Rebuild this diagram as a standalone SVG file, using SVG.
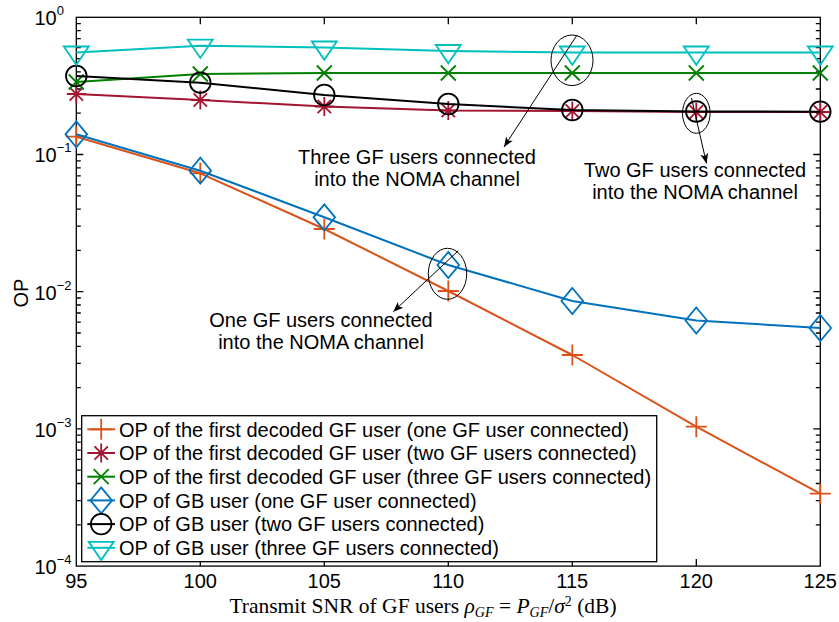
<svg xmlns="http://www.w3.org/2000/svg" width="839" height="622" viewBox="0 0 839 622">
  <style>
    text { font-family: "Liberation Sans", Arial, sans-serif; font-size: 20px; fill: #000; }
    .serif { font-family: "Liberation Serif", "Times New Roman", serif; font-size: 21.5px; }
    .sup { font-size: 13px; }
    .axis { fill: none; stroke: #000; stroke-width: 1.3; }
    .ln { fill: none; stroke-width: 2; stroke-linejoin: round; }
    .mk { fill: none; stroke-width: 1.8; stroke-linejoin: miter; }
    .c-or { stroke: #D95319; }
    .c-rd { stroke: #A2142F; }
    .c-gr { stroke: #008000; }
    .c-bl { stroke: #0072BD; }
    .c-bk { stroke: #000000; }
    .c-cy { stroke: #00BFBF; }
    .ann { fill: none; stroke: #000; stroke-width: 1; }
  </style>
  <defs>
    <path id="m-plus" d="M-10.5,0H10.5M0,-10.5V10.5"/>
    <path id="m-star" d="M-9.5,0H9.5M0,-9.5V9.5M-6.7,-6.7L6.7,6.7M-6.7,6.7L6.7,-6.7"/>
    <path id="m-x" d="M-7.5,-7.5L7.5,7.5M-7.5,7.5L7.5,-7.5"/>
    <path id="m-dia" d="M0,-13L10.8,0L0,13L-10.8,0Z"/>
    <circle id="m-circ" cx="0" cy="0" r="10.3"/>
    <path id="m-tri" d="M-12.5,-6H12.5L0,12.3Z"/>
    <marker id="ah" viewBox="-11 -5 12 10" markerWidth="12" markerHeight="10" refX="0" refY="0" orient="auto" markerUnits="userSpaceOnUse">
      <path d="M0,0L-10,-4L-7.5,0L-10,4Z" fill="#000"/>
    </marker>
  </defs>

  <rect width="839" height="622" fill="#fff"/>

  <!-- axes frame and ticks -->
  <g id="axes">
    <rect class="axis" x="76.3" y="17.3" width="744" height="548.8"/>
    <path class="axis" d="M200.3,566.1v-7M324.3,566.1v-7M448.3,566.1v-7M572.3,566.1v-7M696.3,566.1v-7
      M200.3,17.3v7M324.3,17.3v7M448.3,17.3v7M572.3,17.3v7M696.3,17.3v7
      M76.3,154.5h7M76.3,291.7h7M76.3,428.9h7
      M820.3,154.5h-7M820.3,291.7h-7M820.3,428.9h-7"/>
    <path class="axis" d="
      M76.3,113.2h4.5M76.3,89h4.5M76.3,71.9h4.5M76.3,58.6h4.5M76.3,47.7h4.5M76.3,38.6h4.5M76.3,30.6h4.5M76.3,23.6h4.5
      M76.3,250.4h4.5M76.3,226.2h4.5M76.3,209.1h4.5M76.3,195.8h4.5M76.3,184.9h4.5M76.3,175.8h4.5M76.3,167.8h4.5M76.3,160.8h4.5
      M76.3,387.6h4.5M76.3,363.4h4.5M76.3,346.3h4.5M76.3,333h4.5M76.3,322.1h4.5M76.3,313h4.5M76.3,305h4.5M76.3,298h4.5
      M76.3,524.8h4.5M76.3,500.6h4.5M76.3,483.5h4.5M76.3,470.2h4.5M76.3,459.3h4.5M76.3,450.2h4.5M76.3,442.2h4.5M76.3,435.2h4.5
      M820.3,113.2h-4.5M820.3,89h-4.5M820.3,71.9h-4.5M820.3,58.6h-4.5M820.3,47.7h-4.5M820.3,38.6h-4.5M820.3,30.6h-4.5M820.3,23.6h-4.5
      M820.3,250.4h-4.5M820.3,226.2h-4.5M820.3,209.1h-4.5M820.3,195.8h-4.5M820.3,184.9h-4.5M820.3,175.8h-4.5M820.3,167.8h-4.5M820.3,160.8h-4.5
      M820.3,387.6h-4.5M820.3,363.4h-4.5M820.3,346.3h-4.5M820.3,333h-4.5M820.3,322.1h-4.5M820.3,313h-4.5M820.3,305h-4.5M820.3,298h-4.5
      M820.3,524.8h-4.5M820.3,500.6h-4.5M820.3,483.5h-4.5M820.3,470.2h-4.5M820.3,459.3h-4.5M820.3,450.2h-4.5M820.3,442.2h-4.5M820.3,435.2h-4.5"/>
  </g>

  <!-- tick labels -->
  <g id="xticks" text-anchor="middle">
    <text x="76.3" y="588">95</text>
    <text x="200.3" y="588">100</text>
    <text x="324.3" y="588">105</text>
    <text x="448.3" y="588">110</text>
    <text x="572.3" y="588">115</text>
    <text x="696.3" y="588">120</text>
    <text x="820.3" y="588">125</text>
  </g>
  <g id="yticks">
    <text x="34.5" y="25">10<tspan class="sup" dy="-10">0</tspan></text>
    <text x="34.5" y="162.3">10<tspan class="sup" dy="-10">−1</tspan></text>
    <text x="34.5" y="299.5">10<tspan class="sup" dy="-10">−2</tspan></text>
    <text x="34.5" y="436.7">10<tspan class="sup" dy="-10">−3</tspan></text>
    <text x="34.5" y="573.5">10<tspan class="sup" dy="-10">−4</tspan></text>
  </g>

  <!-- axis titles -->
  <text id="ylabel" transform="translate(27.5,293) rotate(-90)" text-anchor="middle">OP</text>
  <text id="xlabel" class="serif" x="423" y="613" text-anchor="middle">Transmit SNR of GF users <tspan font-style="italic">ρ</tspan><tspan font-style="italic" font-size="14" dy="4">GF</tspan><tspan dy="-4"> = </tspan><tspan font-style="italic">P</tspan><tspan font-style="italic" font-size="14" dy="4">GF</tspan><tspan dy="-4">/</tspan><tspan font-style="italic">σ</tspan><tspan font-size="14" dy="-7">2</tspan><tspan dy="7"> (dB)</tspan></text>

  <!-- data series -->
  <g id="series-gf-one">
    <polyline class="ln c-or" points="76.3,136.7 200.3,173.3 324.3,229 448.3,291 572.3,355 696.3,426.7 820.3,493.7"/>
    <g class="mk c-or">
      <use href="#m-plus" x="76.3" y="136.7"/><use href="#m-plus" x="200.3" y="173.3"/><use href="#m-plus" x="324.3" y="229"/>
      <use href="#m-plus" x="448.3" y="291"/><use href="#m-plus" x="572.3" y="355"/><use href="#m-plus" x="696.3" y="426.7"/>
      <use href="#m-plus" x="820.3" y="493.7"/>
    </g>
  </g>
  <g id="series-gf-two">
    <polyline class="ln c-rd" points="76.3,94 200.3,100 324.3,106.5 448.3,110.5 572.3,111 696.3,112 820.3,112"/>
    <g class="mk c-rd">
      <use href="#m-star" x="76.3" y="94"/><use href="#m-star" x="200.3" y="100"/><use href="#m-star" x="324.3" y="106.5"/>
      <use href="#m-star" x="448.3" y="110.5"/><use href="#m-star" x="572.3" y="111"/><use href="#m-star" x="696.3" y="112"/>
      <use href="#m-star" x="820.3" y="112"/>
    </g>
  </g>
  <g id="series-gf-three">
    <polyline class="ln c-gr" points="76.3,82 200.3,74 324.3,73 448.3,73 572.3,73 696.3,73 820.3,73"/>
    <g class="mk c-gr">
      <use href="#m-x" x="76.3" y="82"/><use href="#m-x" x="200.3" y="74"/><use href="#m-x" x="324.3" y="73"/>
      <use href="#m-x" x="448.3" y="73"/><use href="#m-x" x="572.3" y="73"/><use href="#m-x" x="696.3" y="73"/>
      <use href="#m-x" x="820.3" y="73"/>
    </g>
  </g>
  <g id="series-gb-one">
    <polyline class="ln c-bl" points="76.3,134.3 200.3,170.7 324.3,217.3 448.3,265 572.3,301 696.3,320.5 820.3,328"/>
    <g class="mk c-bl">
      <use href="#m-dia" x="76.3" y="134.3"/><use href="#m-dia" x="200.3" y="170.7"/><use href="#m-dia" x="324.3" y="217.3"/>
      <use href="#m-dia" x="448.3" y="265"/><use href="#m-dia" x="572.3" y="301"/><use href="#m-dia" x="696.3" y="320.5"/>
      <use href="#m-dia" x="820.3" y="328"/>
    </g>
  </g>
  <g id="series-gb-two">
    <polyline class="ln c-bk" points="76.3,76 200.3,82.7 324.3,95 448.3,104 572.3,110 696.3,111.5 820.3,111.7"/>
    <g class="mk c-bk">
      <use href="#m-circ" x="76.3" y="76"/><use href="#m-circ" x="200.3" y="82.7"/><use href="#m-circ" x="324.3" y="95"/>
      <use href="#m-circ" x="448.3" y="104"/><use href="#m-circ" x="572.3" y="110"/><use href="#m-circ" x="696.3" y="111.5"/>
      <use href="#m-circ" x="820.3" y="111.7"/>
    </g>
  </g>
  <g id="series-gb-three">
    <polyline class="ln c-cy" points="76.3,52.5 200.3,45.7 324.3,47.5 448.3,51 572.3,52.5 696.3,52.5 820.3,52.5"/>
    <g class="mk c-cy">
      <use href="#m-tri" x="76.3" y="52.5"/><use href="#m-tri" x="200.3" y="45.7"/><use href="#m-tri" x="324.3" y="47.5"/>
      <use href="#m-tri" x="448.3" y="51"/><use href="#m-tri" x="572.3" y="52.5"/><use href="#m-tri" x="696.3" y="52.5"/>
      <use href="#m-tri" x="820.3" y="52.5"/>
    </g>
  </g>

  <!-- legend -->
  <g id="legend">
    <rect x="81.7" y="415.7" width="575" height="146" fill="#fff" stroke="#000" stroke-width="1.3"/>
    <g id="leg-1">
      <path class="ln c-or" d="M87.3,429.3H115"/><use class="mk c-or" href="#m-plus" x="101.2" y="429.3"/>
      <text x="119" y="436.5">OP of the first decoded GF user (one GF user connected)</text>
    </g>
    <g id="leg-2">
      <path class="ln c-rd" d="M87.3,453H115"/><use class="mk c-rd" href="#m-star" x="101.2" y="453"/>
      <text x="119" y="460.2">OP of the first decoded GF user (two GF users connected)</text>
    </g>
    <g id="leg-3">
      <path class="ln c-gr" d="M87.3,476.7H115"/><use class="mk c-gr" href="#m-x" x="101.2" y="476.7"/>
      <text x="119" y="483.9">OP of the first decoded GF user (three GF users connected)</text>
    </g>
    <g id="leg-4">
      <path class="ln c-bl" d="M87.3,500.4H115"/><use class="mk c-bl" href="#m-dia" x="101.2" y="500.4"/>
      <text x="119" y="507.6">OP of GB user (one GF user connected)</text>
    </g>
    <g id="leg-5">
      <path class="ln c-bk" d="M87.3,524.1H115"/><use class="mk c-bk" href="#m-circ" x="101.2" y="524.1"/>
      <text x="119" y="531.3">OP of GB user (two GF users connected)</text>
    </g>
    <g id="leg-6">
      <path class="ln c-cy" d="M87.3,547.8H115"/><use class="mk c-cy" href="#m-tri" x="101.2" y="547.8"/>
      <text x="119" y="555">OP of GB user (three GF users connected)</text>
    </g>
  </g>

  <!-- callout ellipses with their notes -->
  <g id="note-three">
    <ellipse class="ann" cx="572" cy="60.3" rx="21" ry="25.3"/>
    <text x="417" y="164" text-anchor="middle">Three GF users connected</text>
    <text x="417" y="186" text-anchor="middle">into the NOMA channel</text>
  </g>
  <g id="note-two">
    <ellipse class="ann" cx="696.3" cy="113.3" rx="13.8" ry="20"/>
    <text x="695" y="177" text-anchor="middle">Two GF users connected</text>
    <text x="695" y="199" text-anchor="middle">into the NOMA channel</text>
  </g>
  <g id="note-one">
    <ellipse class="ann" cx="447.5" cy="273.8" rx="19.2" ry="25.5"/>
    <text x="321" y="326.5" text-anchor="middle">One GF users connected</text>
    <text x="321" y="348.5" text-anchor="middle">into the NOMA channel</text>
  </g>

  <!-- callout arrows -->
  <g id="connectors">
    <path class="ann" d="M577,35L504,147" marker-end="url(#ah)"/>
    <path class="ann" d="M691.5,98L706.5,163.5" marker-end="url(#ah)"/>
    <path class="ann" d="M458.3,250.7L393.3,311.7" marker-end="url(#ah)"/>
  </g>
</svg>
